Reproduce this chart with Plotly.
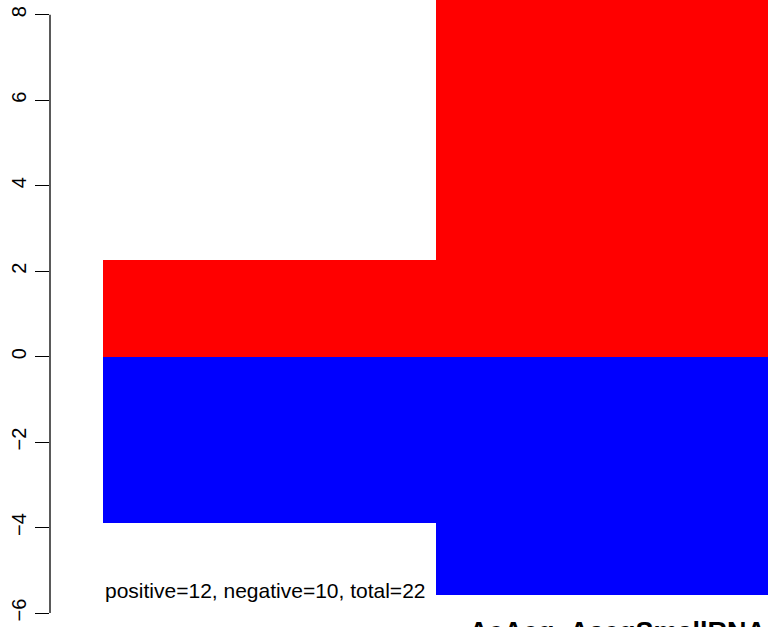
import plotly.graph_objects as go

# Data
categories = ["", "AeAeg_AaegSmallRNA"]
positive_values = [2.25, 10.0]
negative_values = [-3.9, -5.58]
tick_values = [-6, -4, -2, 0, 2, 4, 6, 8]
tick_labels = ["\u22126", "\u22124", "\u22122", "0", "2", "4", "6", "8"]
summary_text = "positive=12, negative=10, total=22"

FONT = "Liberation Sans, Arial, Helvetica, sans-serif"
x_idx = [0, 1]

fig = go.Figure()
fig.add_trace(go.Bar(x=x_idx, y=positive_values, marker=dict(color="#FF0000", line=dict(width=0)),
                     width=1, hoverinfo="skip"))
fig.add_trace(go.Bar(x=x_idx, y=negative_values, marker=dict(color="#0000FF", line=dict(width=0)),
                     width=1, hoverinfo="skip"))

y_lo = -6 - 14 / 42.74
y_hi = 8 + 14.7 / 42.74
x_lo = -0.5 - 53 / 332.5

fig.update_layout(
    width=768, height=627,
    margin=dict(l=50, r=0, t=0, b=0),
    paper_bgcolor="white", plot_bgcolor="white",
    barmode="relative", bargap=0,
    showlegend=False,
    font=dict(family=FONT, color="black"),
    xaxis=dict(range=[x_lo, 1.5], visible=False, fixedrange=True),
    yaxis=dict(range=[y_lo, y_hi], showgrid=False, zeroline=False, showline=False,
               tickmode="array", tickvals=tick_values, ticktext=tick_labels,
               ticks="outside", ticklen=14, tickwidth=1.3, tickcolor="black",
               tickangle=-90, tickfont=dict(size=20, family=FONT, color="black"),
               ticklabelstandoff=1, fixedrange=True),
)

# axis line spanning the tick range
fig.add_shape(type="line", xref="paper", yref="y", x0=0, x1=0,
              y0=min(tick_values), y1=max(tick_values),
              line=dict(color="black", width=1.3), layer="above")

fig.add_annotation(x=-0.5, y=-5.47, xref="x", yref="y", text=summary_text,
                   showarrow=False, xanchor="left", yanchor="middle",
                   font=dict(size=21, family=FONT, color="black"))

fig.add_annotation(x=1, y=0, xref="x", yref="paper", text="<b>" + categories[1] + "</b>",
                   showarrow=False, xanchor="center", yanchor="top", xshift=16, yshift=12,
                   font=dict(size=27, family=FONT, color="black"))

fig.write_html("out.html", config={"displayModeBar": False},
               post_script="document.body.style.margin='0';")
